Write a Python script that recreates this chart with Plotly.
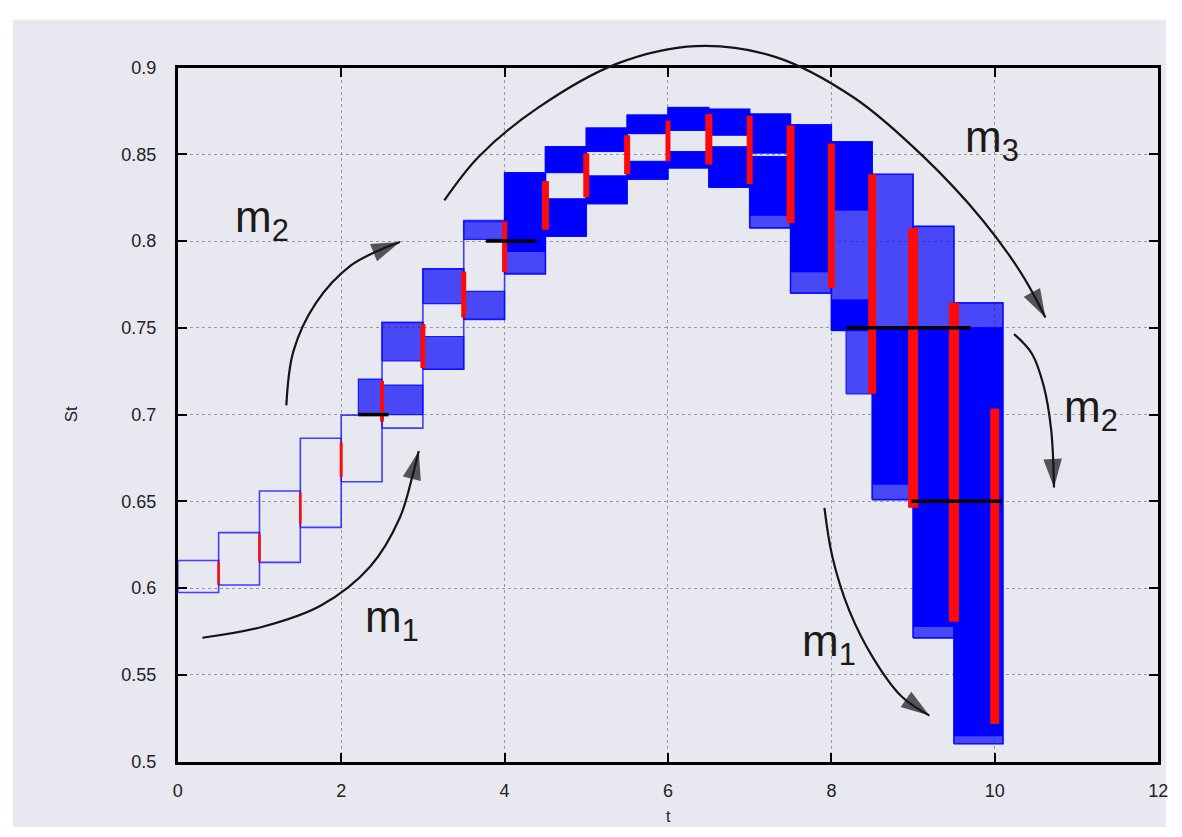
import plotly.graph_objects as go

# ---------------- data ----------------
# step intervals of the trajectory family: start, end, lowest and highest level
step_t0 = [0.0, 0.5, 1.0, 1.5, 2.0, 2.5, 3.0, 3.5, 4.0, 4.5, 5.0, 5.5, 6.0, 6.5, 7.0, 7.5, 8.0, 8.5, 9.0, 9.5]
step_t1 = [0.5, 1.0, 1.5, 2.0, 2.5, 3.0, 3.5, 4.0, 4.5, 5.0, 5.5, 6.0, 6.5, 7.0, 7.5, 8.0, 8.5, 9.0, 9.5, 10.1]
step_lo = [0.5975, 0.6018, 0.6148, 0.6350, 0.6613, 0.6922, 0.7262, 0.7548, 0.7813, 0.8028,
           0.8216, 0.8357, 0.8422, 0.8310, 0.8076, 0.7700, 0.7485, 0.6510, 0.5713, 0.5103]
step_hi = [0.6159, 0.6320, 0.6560, 0.6864, 0.6997, 0.7532, 0.7841, 0.8113, 0.8394, 0.8544,
           0.8651, 0.8726, 0.8769, 0.8760, 0.8732, 0.8670, 0.8572, 0.8385, 0.8085, 0.7644]

# dense bands of many trajectories (solid blue)
dense_t0 = [4.0, 4.5, 4.5, 5.0, 5.0, 5.5, 5.5, 6.0, 6.0, 6.5, 6.5, 7.0, 7.0, 7.5, 8.0, 8.0, 8.5, 9.0, 9.5]
dense_t1 = [4.5, 5.0, 5.0, 5.5, 5.5, 6.0, 6.0, 6.5, 6.5, 7.0, 7.0, 7.5, 7.5, 8.0, 8.5, 8.5, 9.0, 9.5, 10.1]
dense_lo = [0.7940, 0.8394, 0.8028, 0.8516, 0.8216, 0.8619, 0.8357, 0.8638, 0.8422, 0.8610,
            0.8310, 0.8507, 0.8150, 0.7824, 0.8180, 0.7485, 0.6600, 0.5780, 0.5150]
dense_hi = [0.8394, 0.8544, 0.8244, 0.8651, 0.8376, 0.8726, 0.8460, 0.8769, 0.8516, 0.8760,
            0.8544, 0.8732, 0.8488, 0.8670, 0.8572, 0.7660, 0.7500, 0.7500, 0.7500]

# sparser bands (individual lines, lighter blue)
sparse_t0 = [2.21, 2.5, 2.5, 3.0, 3.0, 3.5, 3.5, 4.0, 7.0, 7.5, 8.0, 8.18, 8.5, 8.5, 9.0, 9.0, 9.5, 9.5]
sparse_t1 = [2.5, 3.0, 3.0, 3.5, 3.5, 4.0, 4.0, 4.5, 7.5, 8.0, 8.5, 8.5, 9.0, 9.0, 9.5, 9.5, 10.1, 10.1]
sparse_lo = [0.7000, 0.7310, 0.7000, 0.7640, 0.7260, 0.8010, 0.7550, 0.7810, 0.8076, 0.7700,
             0.7660, 0.7120, 0.7500, 0.6510, 0.7500, 0.5713, 0.7500, 0.5103]
sparse_hi = [0.7205, 0.7530, 0.7170, 0.7840, 0.7450, 0.8120, 0.7710, 0.7940, 0.8150, 0.7824,
             0.8180, 0.7486, 0.8385, 0.6600, 0.8085, 0.5780, 0.7644, 0.5150]

# red jump ranges at the switching times
red_t = [0.5, 1.0, 1.5, 2.0, 2.5, 3.0, 3.5, 4.0, 4.5, 5.0, 5.5, 6.0, 6.5, 7.0, 7.5, 8.0, 8.5, 9.0, 9.5, 10.0]
red_lo = [0.6020, 0.6153, 0.6370, 0.6640, 0.6960, 0.7269, 0.7560, 0.7822, 0.8066, 0.8253,
          0.8385, 0.8460, 0.8441, 0.8329, 0.8104, 0.7729, 0.7120, 0.6463, 0.5806, 0.5216]
red_hi = [0.6150, 0.6310, 0.6550, 0.6840, 0.7194, 0.7522, 0.7824, 0.8113, 0.8347, 0.8507,
          0.8610, 0.8695, 0.8732, 0.8723, 0.8666, 0.8563, 0.8385, 0.8076, 0.7644, 0.7035]

# black threshold markers
thr_t0 = [2.21, 3.77, 8.18, 8.98]
thr_t1 = [2.58, 4.39, 9.70, 10.09]
thr_level = [0.70, 0.80, 0.75, 0.65]

# mode-transition arrows (t, St); the last point is where the arrowhead sits
arc_m1_left_t = [0.302, 1.027, 1.752, 2.356, 2.719, 2.880, 2.950]
arc_m1_left_s = [0.5714, 0.5776, 0.5900, 0.6125, 0.6407, 0.6660, 0.6790]
arc_m2_left_t = [1.329, 1.414, 1.692, 2.115, 2.480, 2.720]
arc_m2_left_s = [0.7053, 0.7363, 0.7644, 0.7858, 0.7950, 0.7995]
arc_m3_t = [3.263, 3.686, 4.411, 5.378, 6.344, 7.311, 8.278, 9.124, 9.849, 10.330, 10.620]
arc_m3_s = [0.8235, 0.8488, 0.8769, 0.9023, 0.9124, 0.9062, 0.8826, 0.8488, 0.8122, 0.7810, 0.7560]
arc_m2_right_t = [10.236, 10.453, 10.598, 10.690, 10.725]
arc_m2_right_s = [0.7464, 0.7352, 0.7166, 0.6913, 0.6580]
arc_m1_right_t = [7.915, 8.012, 8.218, 8.520, 8.860, 9.200]
arc_m1_right_s = [0.6463, 0.6181, 0.5872, 0.5591, 0.5375, 0.5265]

label_text = ["m<sub>2</sub>", "m<sub>1</sub>", "m<sub>3</sub>", "m<sub>2</sub>", "m<sub>1</sub>"]
label_t = [1.027, 2.622, 9.970, 11.178, 7.976]
label_s = [0.8122, 0.5816, 0.8584, 0.7025, 0.5675]

x_ticks = [0, 2, 4, 6, 8, 10, 12]
y_ticks = [0.5, 0.55, 0.6, 0.65, 0.7, 0.75, 0.8, 0.85, 0.9]
y_tick_text = ["0.5", "0.55", "0.6", "0.65", "0.7", "0.75", "0.8", "0.85", "0.9"]

# ---------------- layout geometry / styles ----------------
W, H = 1182, 837
PL, PR, PT, PB = 175, 1168, 59, 770
XR = [0, 12]
YR = [0.5, 0.9]
sx = (PR - PL) / (XR[1] - XR[0])
sy = (PB - PT) / (YR[1] - YR[0])
x2_range = [XR[0] - PL / sx, XR[1] + (W - PR) / sx]
y2_range = [YR[0] - (H - PB) / sy, YR[1] + PT / sy]

BG = "#e8e8f1"
FONT = "Liberation Sans, Arial, sans-serif"
red_width = [2.5, 2.5, 2.5, 3, 4, 5, 5, 5, 7, 6, 6, 5, 7, 6, 8, 7, 8, 10, 10, 9]


def rect_path(t0s, t1s, los, his):
    xs, ys = [], []
    for a, b, lo, hi in zip(t0s, t1s, los, his):
        xs += [a, b, b, a, a, None]
        ys += [lo, lo, hi, hi, lo, None]
    return xs, ys


fig = go.Figure()

# outlines of every step interval
ox, oy = rect_path(step_t0, step_t1, step_lo, step_hi)
fig.add_trace(go.Scatter(x=ox, y=oy, mode="lines", hoverinfo="skip",
                         line=dict(color="rgba(20,20,255,0.8)", width=1.6)))

# sparse bands
spx, spy = rect_path(sparse_t0, sparse_t1, sparse_lo, sparse_hi)
fig.add_trace(go.Scatter(x=spx, y=spy, mode="lines", fill="toself", hoverinfo="skip",
                         fillcolor="rgba(10,10,250,0.72)",
                         line=dict(color="rgba(10,10,255,0.9)", width=1.2)))

# dense bands
dx, dy = rect_path(dense_t0, dense_t1, dense_lo, dense_hi)
fig.add_trace(go.Scatter(x=dx, y=dy, mode="lines", fill="toself", hoverinfo="skip",
                         fillcolor="#0000ff", line=dict(color="#0000ff", width=1)))

# red jump segments
for t, lo, hi, w in zip(red_t, red_lo, red_hi, red_width):
    fig.add_trace(go.Scatter(x=[t, t], y=[lo, hi], mode="lines", hoverinfo="skip",
                             line=dict(color="#ff0a0a", width=w)))

# black thresholds
for a, b, lv in zip(thr_t0, thr_t1, thr_level):
    fig.add_trace(go.Scatter(x=[a, b], y=[lv, lv], mode="lines", hoverinfo="skip",
                             line=dict(color="black", width=3.5)))

# arrows on a full-figure overlay axis sharing the data coordinates
arcs = [(arc_m1_left_t, arc_m1_left_s), (arc_m2_left_t, arc_m2_left_s),
        (arc_m3_t, arc_m3_s), (arc_m2_right_t, arc_m2_right_s),
        (arc_m1_right_t, arc_m1_right_s)]
for ts, ss in arcs:
    n = len(ts)
    fig.add_trace(go.Scatter(x=ts, y=ss, mode="lines+markers", xaxis="x2", yaxis="y2",
                             hoverinfo="skip",
                             line=dict(color="#151515", width=2.2, shape="spline"),
                             marker=dict(symbol="arrow", angleref="previous",
                                         size=[0] * (n - 1) + [30], color="#151515",
                                         line=dict(width=0))))

annotations = []
for txt, t, s in zip(label_text, label_t, label_s):
    annotations.append(dict(x=t, y=s, xref="x2", yref="y2", text=txt, showarrow=False,
                            font=dict(family=FONT, size=44, color="#1e1a18")))

annotations.append(dict(x=672 / W, y=1 - 826 / H, xref="paper", yref="paper", text="t",
                        xanchor="center", yanchor="middle", showarrow=False,
                        font=dict(family=FONT, size=16, color="#222")))
annotations.append(dict(x=67 / W, y=1 - 414 / H, xref="paper", yref="paper", text="St",
                        xanchor="center", yanchor="middle", textangle=-90, showarrow=False,
                        font=dict(family=FONT, size=17, color="#222")))

axis_common = dict(showline=True, linewidth=3, linecolor="black", mirror="ticks",
                   ticks="inside", ticklen=9, tickwidth=2, tickcolor="black",
                   showgrid=True, gridcolor="#9a9a9a", gridwidth=1, griddash="3px,3px",
                   zeroline=False, tickfont=dict(family=FONT, size=18, color="#222"))

fig.update_layout(
    width=W, height=H,
    margin=dict(l=0, r=0, t=0, b=0),
    paper_bgcolor="white",
    plot_bgcolor="rgba(0,0,0,0)",
    showlegend=False,
    xaxis=dict(domain=[PL / W, PR / W], range=XR, tickvals=x_ticks,
               ticktext=[str(v) for v in x_ticks], ticklabelstandoff=11, **axis_common),
    yaxis=dict(domain=[1 - PB / H, 1 - PT / H], range=YR, tickvals=y_ticks,
               ticktext=y_tick_text, ticklabelstandoff=15, **axis_common),
    xaxis2=dict(domain=[0, 1], range=x2_range, visible=False, anchor="y2", fixedrange=True),
    yaxis2=dict(domain=[0, 1], range=y2_range, visible=False, anchor="x2", fixedrange=True),
    shapes=[dict(type="rect", xref="paper", yref="paper", x0=8 / W, x1=1176 / W,
                 y0=0, y1=1 - 10 / H, fillcolor=BG, line=dict(width=0), layer="below")],
    annotations=annotations,
)

post = ("document.documentElement.style.margin='0';"
        "document.body.style.margin='0';"
        "document.body.style.overflow='hidden';")

fig.write_html("out.html", config={"displayModeBar": False}, post_script=post)
